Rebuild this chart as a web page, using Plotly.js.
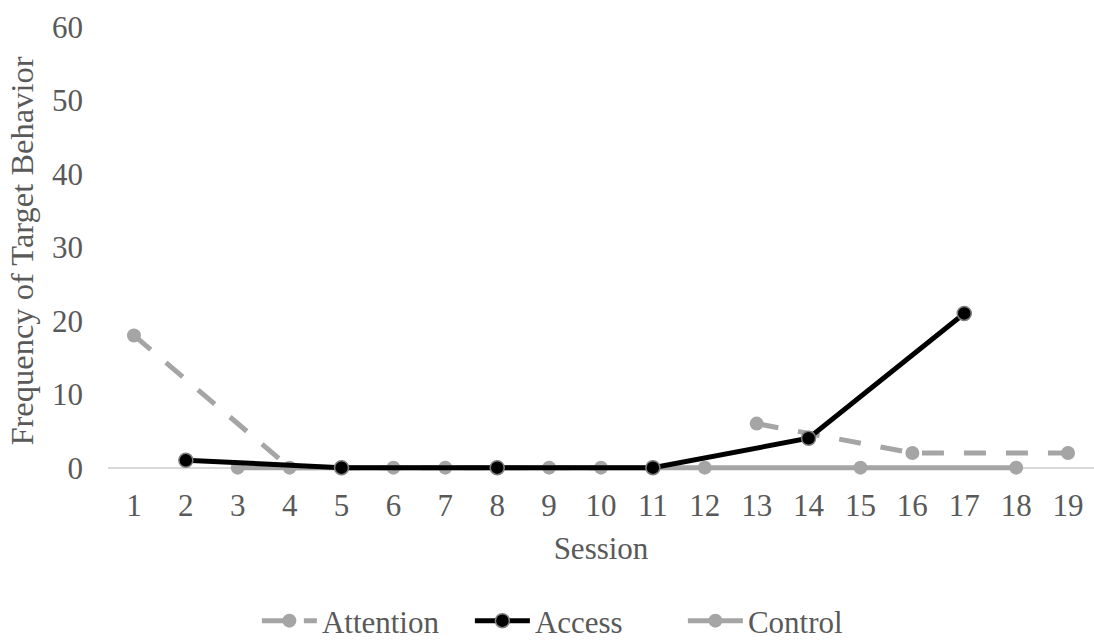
<!DOCTYPE html>
<html><head><meta charset="utf-8">
<script src="https://cdn.plot.ly/plotly-3.0.1.min.js"></script>
<style>body{margin:0;background:#fff}#c{width:1094px;height:642px}</style>
</head><body><div id="c"></div>
<script>
const sessions = [1,2,3,4,5,6,7,8,9,10,11,12,13,14,15,16,17,18,19];
const attentionX = [1,4,7,10,null,13,16,19];
const attentionY = [18,0,0,0,null,6,2,2];
const accessX = [2,5,8,11,14,17];
const accessY = [1,0,0,0,4,21];
const controlX = [3,6,9,12,15,18];
const controlY = [0,0,0,0,0,0];
const yTicks = [0,10,20,30,40,50,60];

const font = {family:'Liberation Serif', color:'#595959', size:31};
const gray = '#a5a5a5';
const traces = [
  {x:attentionX, y:attentionY, name:'Attention', mode:'lines+markers', connectgaps:false, cliponaxis:false,
   line:{color:gray, width:5, dash:'22px,20px'}, marker:{color:gray, size:14}},
  {x:controlX, y:controlY, name:'Control', mode:'lines+markers', cliponaxis:false, showlegend:false, hoverinfo:'skip',
   line:{color:gray, width:5}, marker:{color:gray, size:14}},
  {x:accessX, y:accessY, name:'Access', mode:'lines+markers', cliponaxis:false,
   line:{color:'#000', width:5}, marker:{color:'#000', size:14, line:{color:'#7f7f7f', width:1.5}}},
  {x:[null], y:[null], name:'Control', mode:'lines+markers', line:{color:gray, width:5}, marker:{color:gray, size:14}}
];

const layout = {
  width:1094, height:642,
  margin:{l:108, r:0, t:27, b:167},
  paper_bgcolor:'#fff', plot_bgcolor:'#fff',
  font:font,
  showlegend:true,
  legend:{orientation:'h', xref:'paper', x:0.151, xanchor:'left', yref:'container', y:0.0327, yanchor:'middle', font:font,
    traceorder:'normal', itemwidth:55, entrywidth:143, entrywidthmode:'pixels'},
  xaxis:{range:[0.5,19.5], tickvals:sessions, ticktext:sessions.map(String), showgrid:false, zeroline:false,
    showline:false, ticks:'', ticklabelstandoff:9, tickfont:font, automargin:false,
    title:{text:'Session', font:font, standoff:15}},
  yaxis:{range:[-1,60], tickvals:yTicks, showgrid:false, zeroline:true, zerolinecolor:'#d9d9d9', zerolinewidth:1.5,
    showline:false, ticks:'', ticklabelstandoff:24, tickfont:font, automargin:false,
    title:{text:'Frequency of Target Behavior', font:Object.assign({}, font, {size:32.5}), standoff:8}}
};
Plotly.newPlot('c', traces, layout, {displayModeBar:false});
</script></body></html>
